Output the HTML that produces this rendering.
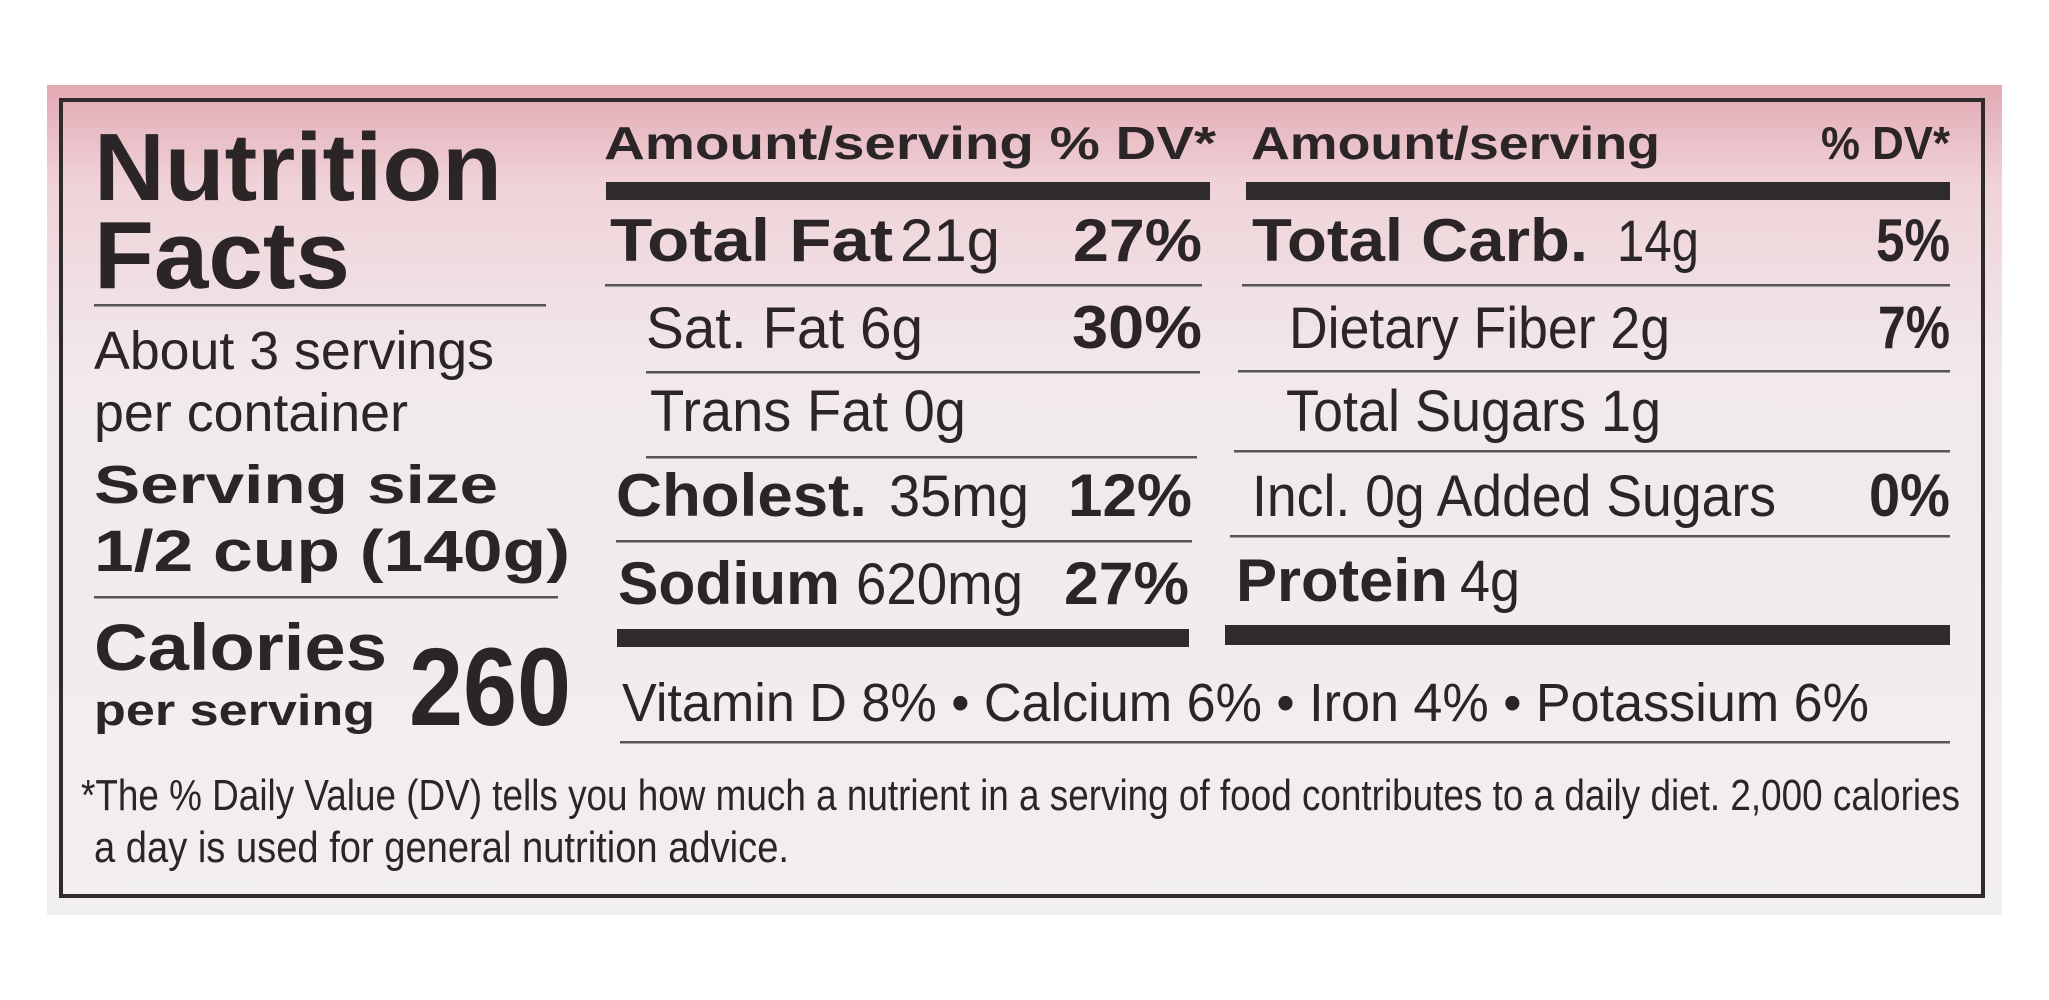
<!DOCTYPE html>
<html><head><meta charset="utf-8"><style>
html,body{margin:0;padding:0;background:#fff;}
svg{display:block;}
text{font-family:"Liberation Sans",Arial,sans-serif;fill:#2b2527;}
.b{font-weight:bold;}
.c{font-family:"Liberation Sans Narrow","Liberation Sans",sans-serif;}
</style></head><body>
<svg width="2049" height="1000" viewBox="0 0 2049 1000" xmlns="http://www.w3.org/2000/svg">
<defs>
<linearGradient id="bg" x1="0" y1="0" x2="0" y2="1">
<stop offset="0" stop-color="#e3a9b3"/>
<stop offset="0.12" stop-color="#efd3d8"/>
<stop offset="0.35" stop-color="#f1e9ec"/>
<stop offset="1" stop-color="#f2eff1"/>
</linearGradient>
</defs>
<rect x="47" y="85" width="1955" height="830" fill="url(#bg)"/>
<rect x="61" y="100" width="1922" height="796" fill="none" stroke="#2f2a2c" stroke-width="4"/>

<!-- left column -->
<text class="b" x="94" y="200" font-size="96" textLength="408" lengthAdjust="spacingAndGlyphs">Nutrition</text>
<text class="b" x="94" y="288" font-size="96" textLength="256" lengthAdjust="spacingAndGlyphs">Facts</text>
<rect x="94" y="304" width="452" height="2.5" fill="#555"/>
<text x="94" y="369" font-size="54" textLength="400" lengthAdjust="spacingAndGlyphs">About 3 servings</text>
<text x="94" y="431" font-size="54" textLength="314" lengthAdjust="spacingAndGlyphs">per container</text>
<text class="b" x="94" y="503" font-size="54" textLength="404" lengthAdjust="spacingAndGlyphs">Serving size</text>
<text class="b" x="94" y="571" font-size="58" textLength="476" lengthAdjust="spacingAndGlyphs">1/2 cup (140g)</text>
<rect x="94" y="596" width="464" height="2.5" fill="#555"/>
<text class="b" x="94" y="670" font-size="66" textLength="293" lengthAdjust="spacingAndGlyphs">Calories</text>
<text class="b" x="94" y="725" font-size="44" textLength="281" lengthAdjust="spacingAndGlyphs">per serving</text>
<text class="b" x="409" y="725" font-size="110" textLength="162" lengthAdjust="spacingAndGlyphs">260</text>

<!-- middle column -->
<text class="b" x="604" y="159" font-size="46" textLength="612" lengthAdjust="spacingAndGlyphs">Amount/serving % DV*</text>
<rect x="606" y="182" width="604" height="18" fill="#2f2a2c"/>
<text class="b" x="610" y="261" font-size="60" textLength="283" lengthAdjust="spacingAndGlyphs">Total Fat</text>
<text x="900" y="261" font-size="60" textLength="100" lengthAdjust="spacingAndGlyphs">21g</text>
<text class="b" x="1073" y="261" font-size="60" textLength="129" lengthAdjust="spacingAndGlyphs">27%</text>
<rect x="605" y="284" width="597" height="2.5" fill="#555"/>
<text x="646" y="348" font-size="58" textLength="277" lengthAdjust="spacingAndGlyphs">Sat. Fat 6g</text>
<text class="b" x="1072" y="348" font-size="60" textLength="130" lengthAdjust="spacingAndGlyphs">30%</text>
<rect x="646" y="371" width="554" height="2.5" fill="#555"/>
<text x="650" y="431" font-size="58" textLength="316" lengthAdjust="spacingAndGlyphs">Trans Fat 0g</text>
<rect x="646" y="456" width="551" height="2.5" fill="#555"/>
<text class="b" x="616" y="516" font-size="60" textLength="251" lengthAdjust="spacingAndGlyphs">Cholest.</text>
<text x="889" y="516" font-size="58" textLength="140" lengthAdjust="spacingAndGlyphs">35mg</text>
<text class="b" x="1068" y="516" font-size="60" textLength="124" lengthAdjust="spacingAndGlyphs">12%</text>
<rect x="616" y="540" width="576" height="2.5" fill="#555"/>
<text class="b" x="618" y="604" font-size="60" textLength="222" lengthAdjust="spacingAndGlyphs">Sodium</text>
<text x="856" y="604" font-size="58" textLength="167" lengthAdjust="spacingAndGlyphs">620mg</text>
<text class="b" x="1064" y="604" font-size="60" textLength="125" lengthAdjust="spacingAndGlyphs">27%</text>
<rect x="617" y="629" width="572" height="18" fill="#2f2a2c"/>

<!-- right column -->
<text class="b" x="1251" y="159" font-size="46" textLength="409" lengthAdjust="spacingAndGlyphs">Amount/serving</text>
<text class="b" x="1821" y="159" font-size="46" textLength="129" lengthAdjust="spacingAndGlyphs">% DV*</text>
<rect x="1246" y="182" width="704" height="18" fill="#2f2a2c"/>
<text class="b" x="1252" y="261" font-size="60" textLength="336" lengthAdjust="spacingAndGlyphs">Total Carb.</text>
<text x="1617" y="261" font-size="58" textLength="82" lengthAdjust="spacingAndGlyphs">14g</text>
<text class="b" x="1876" y="261" font-size="60" textLength="74" lengthAdjust="spacingAndGlyphs">5%</text>
<rect x="1242" y="284" width="708" height="2.5" fill="#555"/>
<text x="1289" y="348" font-size="58" textLength="381" lengthAdjust="spacingAndGlyphs">Dietary Fiber 2g</text>
<text class="b" x="1878" y="348" font-size="60" textLength="72" lengthAdjust="spacingAndGlyphs">7%</text>
<rect x="1238" y="370" width="712" height="2.5" fill="#555"/>
<text x="1286" y="431" font-size="58" textLength="375" lengthAdjust="spacingAndGlyphs">Total Sugars 1g</text>
<rect x="1234" y="450" width="716" height="2.5" fill="#555"/>
<text x="1252" y="516" font-size="58" textLength="524" lengthAdjust="spacingAndGlyphs">Incl. 0g Added Sugars</text>
<text class="b" x="1869" y="516" font-size="60" textLength="81" lengthAdjust="spacingAndGlyphs">0%</text>
<rect x="1230" y="535" width="720" height="2.5" fill="#555"/>
<text class="b" x="1236" y="601" font-size="60" textLength="212" lengthAdjust="spacingAndGlyphs">Protein</text>
<text x="1460" y="601" font-size="58" textLength="60" lengthAdjust="spacingAndGlyphs">4g</text>
<rect x="1225" y="625" width="725" height="20" fill="#2f2a2c"/>

<!-- vitamins -->
<text x="622" y="721" font-size="54" textLength="1247" lengthAdjust="spacingAndGlyphs">Vitamin D 8% • Calcium 6% • Iron 4% • Potassium 6%</text>
<rect x="620" y="741" width="1330" height="2.5" fill="#555"/>

<!-- footnote -->
<text class="c" x="81" y="810" font-size="44" textLength="1879" lengthAdjust="spacingAndGlyphs">*The % Daily Value (DV) tells you how much a nutrient in a serving of food contributes to a daily diet. 2,000 calories</text>
<text class="c" x="94" y="862" font-size="44" textLength="695" lengthAdjust="spacingAndGlyphs">a day is used for general nutrition advice.</text>
</svg>
</body></html>
